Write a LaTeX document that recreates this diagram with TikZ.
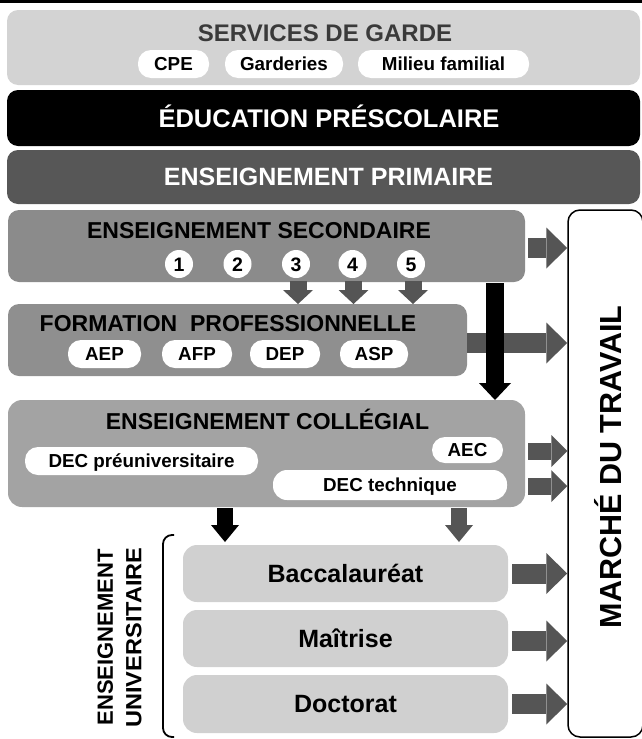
\documentclass[tikz,border=0pt]{standalone}
\usepackage{fontspec}
\usepackage{graphicx}
\setmainfont{Liberation Sans}
\usetikzlibrary{arrows.meta,calc}
\definecolor{svcfill}{HTML}{D3D3D3}
\definecolor{svctxt}{HTML}{3A3A3A}
\definecolor{primfill}{HTML}{575757}
\definecolor{secfill}{HTML}{8B8B8B}
\definecolor{formfill}{HTML}{8F8F8F}
\definecolor{colfill}{HTML}{A3A3A3}
\definecolor{univfill}{HTML}{D0D0D0}
\definecolor{arrgray}{HTML}{555555}
\newcommand\myfs[1]{\fontsize{#1pt}{#1pt}\selectfont\bfseries}
\tikzset{
  panel/.style={rounded corners=11pt, inner sep=0pt, outer sep=0pt},
  tx/.style 2 args={font=\myfs{#1}, text height=#2pt, text depth=0pt, inner sep=0pt},
  pill/.style={fill=white, rounded corners=13pt, inner sep=0pt, outer sep=0pt, minimum height=28pt, tx={18.8}{13.5}},
  num/.style={circle, fill=white, minimum size=28pt, inner sep=0pt, tx={19.5}{14}},
  bigr/.style={line width=20pt, -{Triangle[length=21pt,width=41pt,line width=0pt]}},
  medr/.style={line width=17pt, -{Triangle[length=16pt,width=32pt,line width=0pt]}},
  smalld/.style={line width=17pt, -{Triangle[length=14pt,width=30pt,line width=0pt]}},
  blkd/.style={line width=18pt, -{Triangle[length=17pt,width=32pt,line width=0pt]}},
  cold/.style={line width=16pt, -{Triangle[length=17pt,width=28pt,line width=0pt]}},
}
\begin{document}
\begin{tikzpicture}[x=1pt,y=-1pt]
\useasboundingbox (0,0) rectangle (642,739);
\fill[black] (0,0) rectangle (642,3);

% Services de garde
\node[panel, fill=svcfill, minimum width=633pt, minimum height=75pt] (svc) at (323.5,47.5) {};
\node[tx={24}{17.2}, text=svctxt] (svct) at (325,33) {SERVICES DE GARDE};
\node[pill, minimum width=71pt] (cpe) at (173.5,64) {CPE};
\node[pill, minimum width=118pt] (gard) at (284,64) {Garderies};
\node[pill, minimum width=171pt] (milieu) at (443.5,64) {Milieu familial};

% Education prescolaire
\node[panel, fill=black, minimum width=633pt, minimum height=56pt] (pre) at (323.5,118) {};
\node[tx={25.5}{18.3}, text=white] (pret) at (329,118) {ÉDUCATION PRÉSCOLAIRE};

% Primaire
\node[panel, fill=primfill, minimum width=633pt, minimum height=54pt] (prim) at (323.5,177) {};
\node[tx={25}{17.9}, text=white] (primt) at (328.5,177) {ENSEIGNEMENT PRIMAIRE};

% Marche du travail
\node[draw=black, line width=1.5pt, fill=white, rounded corners=12pt, minimum width=75pt, minimum height=527pt, inner sep=0pt] (mdt) at (605.5,473.5) {};
\node[tx={30.5}{21.8}, rotate=90] (mdtt) at (611,467) {MARCHÉ DU TRAVAIL};

% Secondaire
\node[panel, fill=secfill, minimum width=517pt, minimum height=72pt] (sec) at (266.5,246) {};
\node[tx={23}{16.5}] (sect) at (259,230.5) {ENSEIGNEMENT SECONDAIRE};
\node[num] (c1) at (179,264) {1};
\node[num] (c2) at (237.5,264) {2};
\node[num] (c3) at (296,264) {3};
\node[num] (c4) at (352.5,264) {4};
\node[num] (c5) at (411,264) {5};

% Formation professionnelle
\node[panel, fill=formfill, minimum width=459pt, minimum height=72pt] (form) at (237.5,340) {};
\node[tx={23}{16.5}] (formt) at (228,323) {FORMATION\ \ PROFESSIONNELLE};
\node[pill, minimum width=73pt] (aep) at (104.5,354) {AEP};
\node[pill, minimum width=70pt] (afp) at (197,354) {AFP};
\node[pill, minimum width=70pt] (dep) at (285,354) {DEP};
\node[pill, minimum width=68pt] (asp) at (374,354) {ASP};

% Collegial
\node[panel, fill=colfill, rounded corners=14pt, minimum width=517pt, minimum height=107pt] (col) at (266.5,453.5) {};
\node[tx={23}{16.5}] (colt) at (267.5,421) {ENSEIGNEMENT COLLÉGIAL};
\node[pill, minimum width=71pt, minimum height=26pt] (aec) at (467.5,450) {AEC};
\node[pill, minimum width=233pt] (dpre) at (141.5,461) {DEC préuniversitaire};
\node[pill, minimum width=234pt, minimum height=30pt, rounded corners=14pt] (dtec) at (390,485) {DEC technique};

% Universitaire
\node[panel, fill=univfill, rounded corners=14pt, minimum width=325pt, minimum height=57pt, tx={25}{17.9}] (bac) at (345.5,573.5) {Baccalauréat};
\node[panel, fill=univfill, rounded corners=14pt, minimum width=325pt, minimum height=57pt, tx={25}{17.9}] (mai) at (345.5,638.5) {Maîtrise};
\node[panel, fill=univfill, rounded corners=14pt, minimum width=325pt, minimum height=58pt, tx={25}{17.9}] (doc) at (345.5,704) {Doctorat};
\node[rotate=90, align=center, inner sep=0pt, font=\fontsize{22pt}{28.5pt}\selectfont\bfseries] (univt) at (119.5,637.5) {ENSEIGNEMENT\\\scalebox{1.07}[1]{UNIVERSITAIRE}};
\draw[line width=1.8pt, rounded corners=9pt] (174,535) -- (163,535) -- (163,737) -- (174,737);

% Arrows to marche du travail
\draw[bigr, arrgray] ($(sec.east)+(3,2)$) -- ($(sec.east -| mdt.west)+(0,2)$);
\draw[bigr, arrgray] ($(form.east)+(0,3)$) -- ($(form.east -| mdt.west)+(0,3)$);
\draw[medr, arrgray] ($(col.east)+(3,-2.5)$) -- ($(col.east -| mdt.west)+(0,-2.5)$);
\draw[medr, arrgray] ($(col.east)+(3,32.5)$) -- ($(col.east -| mdt.west)+(0,32.5)$);
\draw[bigr, arrgray] ($(bac.east)+(4,0)$) -- (bac.east -| mdt.west);
\draw[bigr, arrgray] ($(mai.east)+(4,2.5)$) -- ($(mai.east -| mdt.west)+(0,2.5)$);
\draw[bigr, arrgray] ($(doc.east)+(4,0)$) -- (doc.east -| mdt.west);

% Down arrows secondaire -> formation
\draw[smalld, arrgray] ($(c3 |- sec.south)+(2,-1)$) -- ($(c3 |- form.north)+(2,0)$);
\draw[smalld, arrgray] ($(c4 |- sec.south)+(1,-1)$) -- ($(c4 |- form.north)+(1,0)$);
\draw[smalld, arrgray] ($(c5 |- sec.south)+(2,-1)$) -- ($(c5 |- form.north)+(2,0)$);

% Secondaire -> collegial
\coordinate (bk) at ($(sec.south east)+(-30,1)$);
\draw[blkd, black] (bk) -- (bk |- col.north);

% Collegial -> universitaire
\coordinate (cb) at ($(col.south west)+(217,1)$);
\coordinate (cg) at ($(col.south west)+(451,1)$);
\draw[cold, black] (cb) -- ($(cb |- bac.north)+(0,-3)$);
\draw[cold, arrgray] (cg) -- ($(cg |- bac.north)+(0,-3)$);
\end{tikzpicture}
\end{document}
